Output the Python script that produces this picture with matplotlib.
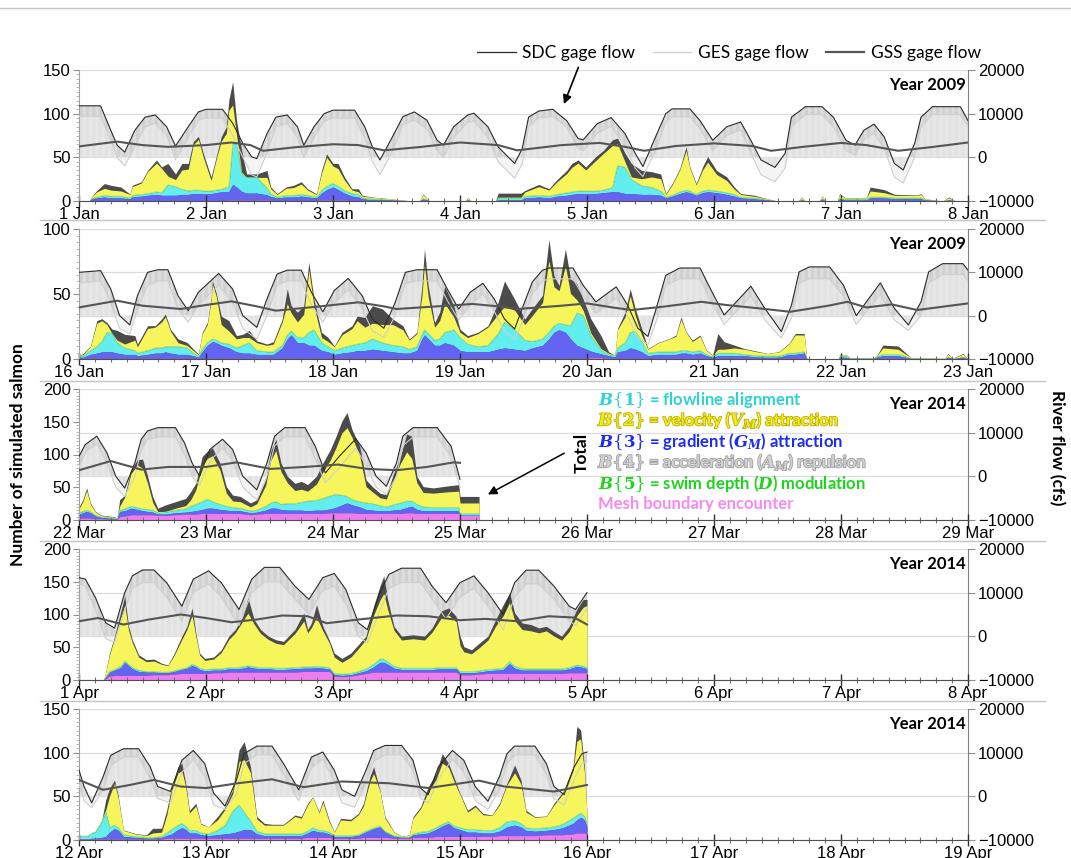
import numpy as np
import matplotlib
matplotlib.use("Agg")
import matplotlib.pyplot as plt
import matplotlib.patheffects as pe
from matplotlib.lines import Line2D
from matplotlib.ticker import MultipleLocator

plt.rcParams['font.family'] = ['Liberation Sans', 'DejaVu Sans']
plt.rcParams['mathtext.fontset'] = 'dejavuserif'
plt.rcParams['hatch.linewidth'] = 0.4

# ---------------- data ----------------
# panel settings
PANEL_START = [1, 16, 22, 1, 12]
PANEL_MONTH = ['Jan', 'Jan', 'Mar', 'Apr', 'Apr']
PANEL_YEAR = ['Year 2009', 'Year 2009', 'Year 2014', 'Year 2014', 'Year 2014']
PANEL_TOP = [150, 100, 200, 200, 150]

# flows: (day, SDC cfs, GES cfs)
P1_FLOW = [
    (0.00, 11800, 9400), (0.17, 11800, 9400), (0.25, 6200, 4000), (0.30, 2800, 0),
    (0.36, 1200, -2000), (0.44, 6200, 2500), (0.52, 9200, 7000), (0.60, 9700, 7800),
    (0.69, 7000, 5000), (0.76, 2600, -500), (0.86, 7000, 4500), (0.94, 10400, 8500),
    (1.00, 11000, 9000), (1.13, 11000, 9000), (1.21, 7800, 5000), (1.29, 3200, 0),
    (1.36, 100, -4000), (1.40, -300, -4500), (1.48, 5400, 1000), (1.55, 9200, 7000),
    (1.64, 9700, 7800), (1.72, 7000, 4500), (1.77, 2800, 0), (1.85, 7000, 4500),
    (1.93, 10000, 8200), (2.00, 10800, 9000), (2.17, 10800, 9000), (2.25, 7000, 4500),
    (2.31, 2400, -1000), (2.37, -600, -4000), (2.47, 4800, 1500), (2.55, 9300, 7500),
    (2.64, 10400, 8500), (2.74, 8500, 6500), (2.82, 3900, 1500), (2.87, 2800, 0),
    (2.95, 7000, 4500), (3.06, 9700, 8000), (3.11, 10100, 8300), (3.22, 7000, 4500),
    (3.30, 2400, -1000), (3.43, -1400, -4800), (3.49, 2000, -1500), (3.54, 9200, 7000),
    (3.62, 10600, 9000), (3.73, 11000, 9300), (3.84, 8400, 7000), (3.93, 4300, 2000),
    (3.97, 4000, 1500), (4.08, 7700, 5500), (4.19, 9100, 7200), (4.30, 5400, 2500),
    (4.38, 900, -2500), (4.44, -2100, -4400), (4.54, 4700, 1500), (4.62, 10000, 8000),
    (4.67, 11100, 9300), (4.81, 11100, 9300), (4.89, 8400, 6500), (4.99, 3900, 1500),
    (5.10, 7000, 5000), (5.21, 8100, 6300), (5.29, 3900, 1000), (5.37, -600, -4000),
    (5.48, -2300, -5600), (5.56, 900, -2500), (5.61, 9200, 7000), (5.72, 11600, 9800),
    (5.85, 11600, 9800), (5.94, 9200, 7000), (6.04, 3900, 1500), (6.11, 2800, 500),
    (6.18, 6200, 4000), (6.26, 7600, 5500), (6.34, 4700, 2000), (6.42, -1400, -4500),
    (6.49, -2900, -5900), (6.58, 3200, 0), (6.63, 9200, 7000), (6.72, 11600, 9800),
    (6.94, 11600, 9800), (7.00, 8400, 7000),
]
P2_FLOW = [
    (0.00, 10000, 7500), (0.17, 10400, 8000), (0.25, 6150, 3000), (0.32, 0, -3000),
    (0.40, -2150, -4200), (0.46, 4600, 1500), (0.54, 10000, 7000), (0.62, 10600, 8000),
    (0.70, 10600, 8000), (0.78, 4600, 1500), (0.86, 1150, -1500), (0.94, 5400, 2500),
    (1.10, 9750, 7000), (1.21, 6150, 3000), (1.29, 0, -3000), (1.40, -2700, -5400),
    (1.48, 3850, 0), (1.56, 9600, 7000), (1.64, 10500, 8000), (1.75, 10500, 8000),
    (1.83, 5400, 2500), (1.92, 900, -1500), (2.01, 5800, 3000), (2.12, 8600, 6000),
    (2.23, 4600, 1500), (2.31, -770, -3500), (2.40, -2900, -5000), (2.49, 3080, 0),
    (2.57, 10000, 7500), (2.66, 10600, 8000), (2.82, 10600, 8000), (2.90, 6150, 3500),
    (2.99, 1540, -1000), (3.08, 5400, 2500), (3.18, 7460, 5000), (3.27, 3850, 1000),
    (3.35, -770, -3500), (3.43, -3080, -5400), (3.49, 1700, -1500), (3.57, 7800, 5000),
    (3.65, 10500, 8000), (3.70, 11000, 8500), (3.89, 11000, 8500), (3.97, 7000, 4500),
    (4.07, 3200, 500), (4.23, 6650, 4000), (4.32, 2450, 0), (4.40, -2900, -5000),
    (4.48, -4800, -6700), (4.56, 3200, 0), (4.62, 9300, 7000), (4.73, 11000, 8500),
    (4.89, 11000, 8500), (4.97, 6270, 3500), (5.08, 150, -2000), (5.29, 6800, 4500),
    (5.40, 1700, -1000), (5.53, -3670, -5200), (5.61, 2450, -500), (5.67, 10100, 7500),
    (5.75, 11250, 8500), (5.91, 11250, 8500), (6.02, 7000, 4500), (6.12, 0, -2000),
    (6.31, 7570, 5000), (6.42, 1700, -1000), (6.53, -2150, -3400), (6.63, 3200, 0),
    (6.69, 10100, 7500), (6.80, 12000, 9500), (6.96, 12000, 9500), (7.00, 10500, 8000),
]
P3_FLOW = [
    (0.00, 4600, 2000), (0.05, 7300, 5500), (0.14, 9200, 7500), (0.22, 5400, 3000),
    (0.29, 0, -2500), (0.36, -2700, -4600), (0.44, 3100, 0), (0.49, 8500, 6000),
    (0.54, 10400, 8500), (0.62, 11150, 9000), (0.76, 11150, 9000), (0.83, 7700, 5000),
    (0.89, 3100, 0), (0.95, 0, -2000), (1.03, 6150, 3500), (1.13, 8500, 6500),
    (1.21, 6150, 3500), (1.29, 0, -2500), (1.40, -3100, -5400), (1.48, 3100, 0),
    (1.54, 9200, 7000), (1.62, 11150, 9000), (1.78, 11150, 9000), (1.86, 6900, 4000),
    (1.94, 770, -1500), (2.05, 4600, 2000), (2.18, 8600, 6500), (2.26, 5400, 2500),
    (2.34, 0, -2500), (2.42, -2300, -4200), (2.50, 3100, 0), (2.55, 9200, 7000),
    (2.63, 11150, 9000), (2.82, 11150, 9000), (2.93, 6900, 4500), (3.00, -700, -2500),
]
P4_FLOW = [
    (0.00, 13450, 12000), (0.05, 13100, 11500), (0.13, 8850, 6000), (0.21, 3100, -500),
    (0.28, 1900, -1500), (0.36, 10000, 6000), (0.42, 13850, 11000), (0.50, 15200, 12300),
    (0.59, 15200, 12300), (0.69, 12300, 9000), (0.81, 6900, 3500), (0.90, 13100, 10000),
    (1.02, 15000, 12000), (1.12, 12300, 9000), (1.26, 6150, 2500), (1.36, 13100, 10000),
    (1.46, 15800, 12500), (1.58, 15800, 12500), (1.70, 11500, 8500), (1.81, 8460, 5000),
    (1.92, 13450, 10500), (2.01, 14400, 11500), (2.10, 10770, 7500), (2.20, 3100, 0),
    (2.27, 1540, -1500), (2.37, 10000, 6000), (2.44, 14200, 11000), (2.54, 15600, 12300),
    (2.69, 15600, 12300), (2.78, 11500, 8500), (2.89, 7700, 4000), (3.00, 12300, 9000),
    (3.11, 13850, 11000), (3.22, 10000, 7000), (3.34, 5000, 1500), (3.43, 12300, 9000),
    (3.52, 15150, 12000), (3.62, 15150, 12000), (3.74, 11500, 8500), (3.86, 6900, 3500),
    (3.91, 6150, 2500), (3.99, 9600, 6000), (4.00, 10000, 6500),
]
P5_FLOW = [
    (0.00, 6000, 3000), (0.04, 2250, -1000), (0.10, -1500, -2600), (0.19, 4500, 1500),
    (0.25, 9400, 7000), (0.35, 10900, 9000), (0.47, 10900, 9000), (0.56, 6800, 4000),
    (0.62, 2250, -500), (0.72, 1130, -1500), (0.81, 8270, 5500), (0.90, 10500, 8500),
    (0.99, 7500, 4500), (1.06, 750, -2000), (1.15, -2250, -3000), (1.24, 3760, 500),
    (1.30, 9770, 7500), (1.40, 11500, 9500), (1.52, 11500, 9500), (1.61, 7500, 5000),
    (1.73, 1500, -1000), (1.83, 9000, 6500), (1.92, 10150, 8500), (2.01, 6000, 3500),
    (2.07, 1500, -1500), (2.17, 0, -2500), (2.26, 6000, 3000), (2.32, 10500, 8000),
    (2.41, 11650, 9500), (2.54, 11650, 9500), (2.63, 8270, 6000), (2.69, 1880, -500),
    (2.75, 380, -1500), (2.83, 6770, 4000), (2.94, 10500, 8500), (3.03, 8270, 5500),
    (3.12, 2250, -1000), (3.22, -1130, -3000), (3.31, 4500, 1500), (3.37, 9770, 7500),
    (3.43, 11500, 9500), (3.59, 11500, 9500), (3.68, 7500, 5000), (3.74, 2250, -500),
    (3.82, 380, -2000), (3.90, 6770, 4000), (3.96, 9770, 7500), (4.00, 10150, 8000),
]

# GSS gage flow: (day, cfs)
P1_GSS = [
    (0.0, 2500), (0.3, 3600), (0.5, 2800), (0.7, 2400), (1.0, 2800), (1.2, 3400),
    (1.35, 2800), (1.45, 1500), (1.7, 2300), (2.0, 3000), (2.2, 2800), (2.4, 1600),
    (2.7, 2400), (3.0, 3400), (3.3, 2800), (3.45, 1600), (3.8, 2800), (4.1, 3300),
    (4.3, 2400), (4.45, 1500), (4.7, 2600), (5.0, 3200), (5.3, 2600), (5.45, 1500),
    (5.7, 2400), (6.0, 3300), (6.2, 2800), (6.45, 1500), (6.7, 2300), (7.0, 3400),
]
P2_GSS = [
    (0.0, 1900), (0.3, 3460), (0.5, 2300), (0.8, 1540), (1.0, 2460), (1.2, 3300),
    (1.4, 2150), (1.55, 1150), (1.9, 2150), (2.2, 3080), (2.4, 2150), (2.5, 1540),
    (2.9, 2300), (3.1, 2700), (3.3, 2150), (3.45, 1530), (3.8, 2300), (4.0, 2830),
    (4.2, 1900), (4.35, 1300), (4.6, 2070), (4.9, 3200), (5.1, 2450), (5.35, 1700),
    (5.6, 900), (5.9, 2300), (6.05, 3200), (6.2, 1900), (6.4, 2600), (6.6, 1300),
    (6.9, 2450), (7.0, 2830),
]
P3_GSS = [
    (0.0, 1400), (0.25, 3500), (0.49, 1540), (0.7, 2150), (1.0, 2150), (1.24, 3200),
    (1.51, 1700), (1.78, 2150), (2.04, 2700), (2.27, 1700), (2.5, 1400), (2.74, 2150),
    (2.95, 3200), (3.0, 3100),
]
P4_GSS = [
    (0.0, 3460), (0.15, 4200), (0.35, 2700), (0.55, 3850), (0.8, 5000), (1.0, 4200),
    (1.2, 3230), (1.4, 3850), (1.6, 4770), (1.8, 4600), (1.95, 3000), (2.2, 3850),
    (2.5, 4770), (2.75, 4600), (3.0, 3700), (3.2, 4000), (3.45, 3460), (3.7, 4600),
    (3.9, 4300), (4.0, 2700),
]
P5_GSS = [
    (0.0, 3760), (0.19, 1500), (0.4, 2600), (0.59, 3760), (0.8, 2250), (1.0, 1900),
    (1.25, 3000), (1.52, 3900), (1.77, 2100), (2.07, 3400), (2.44, 3000), (2.75, 1900),
    (3.15, 3600), (3.35, 2250), (3.74, 1100), (4.0, 2600),
]

# simulated salmon: (day, total, mesh, B3, B1, B2)
P1_FISH = [
    (0.00, 0, 0, 0, 0, 0), (0.08, 0, 0, 0, 0, 0), (0.10, 5, 0.3, 2, 1, 1.5),
    (0.14, 12, 0.5, 3, 1, 6), (0.20, 20, 0.5, 4, 2, 8), (0.25, 18, 0.5, 3, 2, 7),
    (0.33, 16, 0.5, 3, 2, 6), (0.40, 8, 0.5, 2, 1, 4), (0.42, 18, 0.5, 4, 2, 10),
    (0.49, 22, 0.5, 5, 2, 13), (0.54, 35, 0.5, 6, 2, 25), (0.61, 47, 0.5, 7, 3, 33),
    (0.65, 39, 0.5, 6, 3, 28), (0.70, 43, 0.5, 6, 12, 10), (0.76, 31, 0.5, 6, 10, 8),
    (0.81, 43, 0.5, 7, 6, 22), (0.86, 43, 0.5, 7, 4, 25), (0.90, 68, 0.5, 8, 4, 52),
    (0.94, 74, 0.5, 8, 4, 58), (0.98, 54, 0.5, 8, 3, 38), (1.04, 27.6, 0.5, 8, 3, 12),
    (1.08, 50.6, 0.5, 9, 3, 35), (1.12, 73.6, 0.5, 10, 3, 55), (1.16, 85, 0.5, 10, 5, 62),
    (1.18, 115.7, 1, 10, 5, 88), (1.21, 136.8, 1, 18, 46, 45), (1.24, 92.7, 1, 15, 50, 10),
    (1.28, 58, 1, 10, 20, 2), (1.32, 31, 1, 8, 18, 0), (1.40, 31, 1, 8, 18, 0),
    (1.48, 35, 1, 6, 8, 12), (1.51, 16, 1, 4, 3, 6), (1.56, 8.4, 0.5, 3, 1, 3),
    (1.63, 16, 0.5, 4, 2, 8), (1.69, 18, 0.5, 4, 2, 9), (1.75, 22, 0.5, 5, 2, 12),
    (1.80, 14, 0.5, 4, 2, 6), (1.87, 8.4, 0.5, 3, 1, 3), (1.91, 35, 1, 8, 3, 20),
    (1.95, 54, 1, 12, 4, 33), (2.00, 43, 1, 15, 4, 20), (2.04, 43, 1, 12, 4, 20),
    (2.09, 27.6, 1, 8, 3, 12), (2.15, 14, 0.5, 5, 3, 4), (2.20, 14, 0.5, 4, 3, 3),
    (2.23, 6.5, 0.5, 2, 1, 2), (2.31, 4.6, 0.3, 1, 1, 2), (2.44, 2.7, 0.2, 1, 0.5, 1),
    (2.57, 0.8, 0.1, 0.3, 0.2, 0.2), (2.62, 0, 0, 0, 0, 0), (2.68, 0, 0, 0, 0, 0),
    (2.71, 8, 0.3, 2, 1, 4), (2.76, 0, 0, 0, 0, 0), (3.04, 0, 0, 0, 0, 0),
    (3.06, 3.8, 0.2, 1, 0.5, 1.5), (3.09, 0, 0, 0, 0, 0), (3.28, 0, 0, 0, 0, 0),
    (3.30, 9, 0.3, 1, 2, 1), (3.48, 9, 0.3, 1, 2, 1), (3.51, 12, 0.3, 3, 2, 5),
    (3.62, 19, 0.5, 4, 2, 10), (3.70, 14, 0.5, 3, 2, 7), (3.76, 24, 0.5, 5, 2, 14),
    (3.84, 35, 0.5, 6, 3, 22), (3.88, 43, 0.5, 7, 3, 28), (3.93, 47, 0.5, 8, 3, 32),
    (3.99, 39, 0.5, 8, 3, 24), (4.07, 51, 0.5, 8, 3, 35), (4.13, 58, 0.5, 9, 3, 42),
    (4.20, 70, 0.5, 10, 5, 48), (4.24, 72, 0.5, 10, 30, 25), (4.30, 54.6, 0.5, 8, 30, 6),
    (4.35, 43, 0.5, 8, 16, 3), (4.43, 35, 0.5, 7, 10, 8), (4.51, 33.5, 0.5, 7, 8, 12),
    (4.58, 31, 0.5, 6, 5, 14), (4.62, 8.5, 0.5, 3, 1, 3), (4.67, 20, 0.5, 5, 1, 12),
    (4.73, 37, 0.5, 8, 2, 25), (4.78, 62, 0.5, 10, 2, 45), (4.81, 39, 0.5, 9, 2, 26),
    (4.86, 20, 0.5, 6, 1, 11), (4.91, 39, 0.5, 9, 2, 24), (4.95, 51, 0.5, 10, 2, 32),
    (5.02, 35, 0.5, 9, 2, 19), (5.10, 27.7, 0.5, 7, 2, 14), (5.16, 16, 0.5, 5, 2, 6),
    (5.21, 8.5, 0.5, 3, 1, 3), (5.32, 6.5, 0.3, 2, 1, 2), (5.42, 2.7, 0.2, 1, 0.5, 1),
    (5.50, 0, 0, 0, 0, 0), (5.66, 0, 0, 0, 0, 0), (5.69, 4.6, 0.2, 1, 1, 2),
    (5.72, 0, 0, 0, 0, 0), (5.83, 0, 0, 0, 0, 0), (5.85, 6.5, 0.3, 2, 1, 3),
    (5.88, 0, 0, 0, 0, 0), (5.97, 0, 0, 0, 0, 0), (5.99, 8.5, 0.3, 2, 1, 4),
    (6.03, 4, 0.2, 1, 1, 1.5), (6.20, 4, 0.2, 1, 1, 1.5), (6.23, 16, 0.5, 3, 1, 7),
    (6.34, 13, 0.5, 3, 1, 5), (6.42, 7.7, 0.5, 2, 1, 3), (6.60, 7, 0.5, 2, 1, 3),
    (6.63, 8.5, 0.5, 2, 1, 4), (6.66, 2.7, 0.2, 1, 0.5, 1), (6.80, 0, 0, 0, 0, 0),
    (6.85, 4.6, 0.2, 1, 0.5, 2), (6.90, 0, 0, 0, 0, 0), (7.00, 0, 0, 0, 0, 0),
]
P2_FISH = [
    (0.00, 3, 0.3, 1, 1, 0.5), (0.03, 4, 0.3, 1, 1, 1), (0.09, 10, 0.5, 3, 3, 3),
    (0.14, 29.5, 0.5, 4, 5, 18), (0.18, 31, 0.5, 5, 8, 16), (0.22, 28, 0.5, 5, 15, 6),
    (0.26, 23, 0.5, 5, 14, 0), (0.30, 22, 0.5, 4, 8, 2), (0.36, 19, 0.5, 3, 5, 3),
    (0.44, 18, 0.5, 3, 3, 8), (0.46, 11.5, 0.5, 2, 2, 5), (0.54, 25.6, 0.5, 3, 3, 17),
    (0.60, 25.6, 0.5, 4, 4, 16), (0.65, 30.8, 0.5, 4, 4, 20), (0.68, 34.6, 0.5, 5, 4, 23),
    (0.72, 23, 0.5, 4, 5, 12), (0.78, 15.4, 0.5, 3, 6, 3), (0.85, 12.8, 0.5, 3, 5, 2),
    (0.90, 7.7, 0.5, 2, 2, 2), (0.94, 3.8, 0.3, 1, 1, 1), (0.97, 20.5, 0.5, 5, 2, 12),
    (1.01, 28, 0.5, 10, 2, 14), (1.04, 46, 0.5, 12, 2, 30), (1.05, 60, 0.5, 13, 2, 42),
    (1.08, 51, 0.5, 12, 2, 34), (1.12, 33, 0.5, 10, 2, 14), (1.18, 29.5, 0.5, 8, 3, 10),
    (1.24, 18, 0.5, 5, 3, 7), (1.29, 19, 0.5, 4, 6, 6), (1.34, 22, 0.5, 4, 8, 4),
    (1.40, 14, 0.5, 3, 3, 6), (1.48, 11.5, 0.5, 3, 2, 5), (1.53, 13.3, 0.5, 3, 2, 6),
    (1.60, 30.8, 0.5, 8, 2, 18), (1.64, 54, 0.5, 15, 3, 24), (1.67, 41, 0.5, 18, 3, 14),
    (1.72, 36, 0.5, 12, 4, 12), (1.77, 41, 0.5, 12, 4, 18), (1.81, 74.4, 0.5, 10, 10, 48),
    (1.85, 46, 0.5, 10, 12, 18), (1.91, 20.5, 0.5, 6, 6, 4), (1.96, 16.7, 0.5, 5, 4, 4),
    (2.01, 10, 0.5, 3, 3, 3), (2.07, 20.5, 0.5, 4, 4, 10), (2.15, 25.6, 0.5, 5, 5, 13),
    (2.19, 33, 0.5, 6, 5, 18), (2.25, 32, 0.5, 6, 6, 12), (2.31, 41, 0.5, 7, 8, 12),
    (2.39, 38.5, 0.5, 6, 6, 14), (2.47, 30.8, 0.5, 5, 5, 16), (2.55, 25.6, 0.5, 4, 5, 13),
    (2.60, 15.4, 0.5, 4, 3, 7), (2.66, 20.5, 0.5, 6, 3, 10), (2.70, 56, 0.5, 15, 3, 30),
    (2.72, 84.6, 0.5, 18, 4, 50), (2.75, 56, 0.5, 15, 4, 28), (2.80, 28, 0.5, 10, 4, 10),
    (2.84, 36, 0.5, 10, 5, 14), (2.88, 56, 0.5, 12, 8, 22), (2.95, 41, 0.5, 10, 12, 10),
    (3.00, 23, 0.5, 6, 10, 4), (3.06, 18, 0.5, 5, 6, 5), (3.14, 20.5, 0.5, 5, 4, 10),
    (3.22, 25.6, 0.5, 5, 5, 14), (3.30, 43.6, 0.5, 7, 12, 15), (3.35, 60, 0.5, 8, 20, 12),
    (3.43, 46, 0.5, 7, 15, 15), (3.51, 30.8, 0.5, 6, 8, 12), (3.57, 38.8, 0.5, 8, 5, 20),
    (3.65, 49, 0.5, 10, 5, 28), (3.70, 92, 0.5, 15, 5, 55), (3.74, 64, 0.5, 20, 5, 30),
    (3.78, 56.6, 0.5, 22, 5, 25), (3.83, 84.7, 0.5, 20, 6, 45), (3.87, 61.7, 0.5, 15, 10, 25),
    (3.92, 58, 0.5, 10, 25, 10), (3.97, 46, 0.5, 8, 25, 4), (4.03, 31, 1, 5, 12, 2),
    (4.11, 18, 1, 3, 3, 1), (4.17, 5.6, 0.5, 2, 1, 1), (4.22, 3, 0.5, 1, 1, 0.5),
    (4.24, 23.5, 0.5, 5, 3, 14), (4.30, 36, 0.5, 6, 6, 20), (4.34, 54, 0.5, 8, 12, 28),
    (4.38, 38.8, 0.5, 7, 14, 12), (4.43, 23.5, 0.5, 5, 8, 5), (4.48, 8, 0.5, 2, 2, 3),
    (4.56, 12.8, 0.5, 3, 2, 7), (4.65, 15.8, 0.5, 3, 2, 10), (4.70, 18.4, 0.5, 3, 2, 12),
    (4.74, 32.4, 0.5, 4, 2, 24), (4.78, 21, 0.5, 4, 2, 14), (4.83, 14.5, 0.5, 3, 2, 8),
    (4.89, 18.4, 0.5, 4, 2, 11), (4.94, 7, 0.5, 2, 1, 3), (4.99, 3, 0.3, 1, 0.5, 1),
    (5.03, 19.6, 0.5, 2, 2, 3), (5.08, 13.3, 0.5, 2, 2, 3), (5.16, 10.7, 0.5, 2, 2, 4),
    (5.24, 8, 0.5, 2, 1, 4), (5.34, 6, 0.5, 1, 1, 3), (5.42, 4.3, 0.3, 1, 1, 2),
    (5.51, 5.6, 0.3, 1, 1, 3), (5.59, 12, 0.5, 3, 1, 7), (5.64, 19.6, 0.5, 3, 1, 14),
    (5.71, 19.6, 0.5, 4, 1, 13), (5.73, 0.5, 0.1, 0.2, 0.1, 0.1), (5.75, 0, 0, 0, 0, 0),
    (5.98, 0, 0, 0, 0, 0), (5.99, 3.5, 0.3, 1, 1, 1), (6.04, 3.5, 0.3, 1, 1, 1),
    (6.07, 1, 0.1, 0.3, 0.3, 0.3), (6.26, 1, 0.1, 0.3, 0.3, 0.3), (6.28, 2.5, 0.3, 1, 0.5, 0.5),
    (6.33, 10.7, 0.5, 2, 1, 5), (6.45, 10, 0.5, 2, 1, 4), (6.50, 5.6, 0.3, 1, 1, 2),
    (6.55, 1, 0.1, 0.3, 0.3, 0.3), (6.82, 0.5, 0.1, 0.1, 0.1, 0.1), (6.84, 4.3, 0.3, 1, 0.5, 2),
    (6.88, 0.5, 0.1, 0.1, 0.1, 0.1), (6.96, 4.3, 0.3, 1, 0.5, 2), (7.00, 0, 0, 0, 0, 0),
]
P3_FISH = [
    (0.00, 20, 3, 6, 2, 6), (0.03, 31, 3, 8, 2, 15), (0.06, 49, 3, 10, 2, 30),
    (0.09, 26, 3, 8, 2, 11), (0.13, 13, 2, 4, 1, 5), (0.17, 7.7, 2, 2, 1, 2),
    (0.28, 5, 1, 1, 1, 1), (0.30, 2.5, 1, 0.5, 0.5, 0.5), (0.32, 31, 5, 8, 2, 6),
    (0.36, 38, 6, 8, 3, 18), (0.41, 77, 8, 10, 3, 50), (0.46, 92, 8, 8, 3, 65),
    (0.50, 93, 8, 6, 3, 62), (0.54, 67, 8, 5, 3, 40), (0.58, 36, 8, 4, 3, 12),
    (0.62, 18, 7, 2, 2, 2), (0.68, 23, 7, 2, 3, 1), (0.76, 28, 8, 3, 4, 3),
    (0.84, 33, 9, 3, 5, 5), (0.88, 43.6, 9, 4, 8, 10), (0.92, 56, 9, 5, 10, 22),
    (0.97, 97, 10, 6, 12, 55), (1.01, 105, 10, 8, 14, 62), (1.05, 110, 10, 8, 10, 70),
    (1.11, 87, 10, 6, 8, 52), (1.16, 51, 10, 5, 6, 20), (1.21, 38, 10, 4, 5, 10),
    (1.27, 36, 10, 4, 4, 10), (1.35, 26, 8, 3, 3, 6), (1.40, 31, 9, 3, 3, 10),
    (1.47, 61.5, 10, 5, 6, 32), (1.51, 105, 10, 8, 8, 65), (1.55, 123, 10, 8, 10, 78),
    (1.59, 87, 10, 6, 8, 50), (1.64, 67, 10, 5, 10, 32), (1.70, 56, 10, 5, 10, 20),
    (1.75, 59, 10, 5, 12, 20), (1.80, 54, 10, 4, 15, 15), (1.87, 67, 10, 5, 15, 25),
    (1.92, 87, 10, 5, 18, 40), (1.98, 108, 11, 6, 20, 55), (2.02, 126, 11, 8, 20, 70),
    (2.07, 151, 11, 12, 15, 95), (2.11, 164, 11, 15, 10, 105), (2.15, 138, 11, 12, 8, 95),
    (2.21, 113, 10, 10, 8, 70), (2.26, 61.5, 10, 6, 10, 25), (2.31, 51, 10, 5, 10, 18),
    (2.37, 41, 10, 4, 8, 12), (2.42, 38.5, 10, 4, 6, 12), (2.47, 67, 10, 5, 8, 35),
    (2.53, 97, 10, 6, 10, 60), (2.58, 131, 11, 8, 10, 75), (2.62, 128, 11, 10, 8, 65),
    (2.66, 67, 10, 6, 8, 33), (2.71, 51, 10, 4, 6, 22), (2.79, 49, 10, 4, 5, 22),
    (2.90, 52, 10, 4, 5, 24), (2.99, 54, 10, 4, 5, 25), (3.00, 36, 7, 0.5, 2.5, 16),
    (3.15, 36, 7, 0.5, 2.5, 16),
]
P4_FISH = [
    (0.00, 0, 0, 0, 0, 0), (0.19, 0, 0, 0, 0, 0), (0.20, 3, 1, 1, 0, 1),
    (0.24, 41, 6, 6, 1, 25), (0.28, 67, 7, 8, 1, 48), (0.33, 105, 7, 12, 2, 75),
    (0.36, 128, 7, 20, 2, 85), (0.39, 82, 7, 15, 2, 52), (0.42, 61.5, 7, 10, 2, 38),
    (0.47, 38.5, 7, 6, 2, 20), (0.53, 31, 7, 5, 1, 15), (0.59, 32, 8, 4, 1, 16),
    (0.65, 25.6, 8, 3, 1, 12), (0.70, 23, 8, 3, 1, 10), (0.75, 41, 9, 4, 1, 24),
    (0.81, 67, 10, 6, 1, 45), (0.85, 82, 10, 8, 1, 58), (0.89, 110, 10, 12, 2, 75),
    (0.92, 72, 10, 10, 2, 45), (0.95, 41, 10, 6, 2, 20), (0.99, 33, 10, 4, 2, 14),
    (1.06, 35, 11, 4, 2, 15), (1.12, 46, 11, 4, 2, 25), (1.18, 67, 12, 5, 2, 43),
    (1.23, 77, 12, 5, 2, 53), (1.29, 97, 12, 6, 2, 70), (1.33, 125.6, 12, 8, 2, 80),
    (1.38, 92, 12, 6, 2, 65), (1.43, 77, 12, 5, 2, 52), (1.49, 67, 12, 5, 2, 43),
    (1.55, 61.5, 12, 4, 2, 38), (1.61, 59, 12, 4, 2, 36), (1.70, 77, 12, 5, 2, 52),
    (1.77, 102.6, 13, 5, 2, 70), (1.80, 77, 13, 5, 2, 52), (1.83, 87, 13, 5, 2, 60),
    (1.87, 115, 13, 6, 2, 75), (1.92, 82, 13, 5, 2, 55), (1.97, 61.5, 13, 4, 2, 38),
    (2.01, 41, 6, 2, 2, 25), (2.07, 33, 5, 2, 2, 18), (2.14, 41, 6, 2, 2, 25),
    (2.20, 54, 8, 3, 2, 35), (2.26, 67, 10, 4, 3, 45), (2.32, 113, 12, 8, 4, 75),
    (2.37, 143.6, 12, 15, 5, 90), (2.40, 159, 12, 15, 5, 100), (2.43, 123, 12, 12, 4, 80),
    (2.48, 82, 12, 6, 3, 55), (2.54, 67, 12, 4, 2, 43), (2.63, 69, 12, 4, 2, 45),
    (2.72, 67, 12, 4, 2, 43), (2.78, 79.5, 12, 4, 2, 55), (2.85, 105, 12, 5, 2, 75),
    (2.91, 110, 12, 5, 2, 80), (2.97, 97, 12, 5, 2, 70), (3.00, 67, 8, 3, 2, 40),
    (3.03, 51, 8, 3, 2, 30), (3.09, 46, 8, 3, 2, 27), (3.15, 56, 9, 3, 2, 35),
    (3.22, 67, 10, 4, 2, 45), (3.28, 92, 10, 5, 2, 65), (3.34, 115, 10, 6, 2, 80),
    (3.39, 133, 10, 15, 3, 90), (3.43, 102.6, 10, 8, 3, 70), (3.49, 87, 10, 5, 2, 60),
    (3.56, 84.6, 10, 5, 2, 58), (3.62, 79.5, 10, 5, 2, 55), (3.68, 82, 10, 5, 2, 58),
    (3.74, 74, 10, 5, 2, 50), (3.80, 67, 10, 5, 2, 44), (3.86, 82, 11, 6, 2, 55),
    (3.92, 108, 11, 10, 2, 75), (3.97, 123, 11, 8, 2, 90), (4.00, 123, 11, 6, 2, 95),
]
P5_FISH = [
    (0.00, 4.6, 1, 0.5, 3, 0), (0.07, 4.6, 1, 0.5, 3, 0), (0.10, 8, 1, 1, 6, 0),
    (0.13, 9.5, 1, 1, 7, 0), (0.18, 23, 1, 2, 18, 2), (0.21, 45.8, 1, 3, 28, 2),
    (0.24, 59, 1, 8, 6, 35), (0.28, 68.7, 1, 12, 4, 48), (0.31, 49.6, 1, 10, 3, 33),
    (0.35, 11.5, 1, 3, 2, 5), (0.44, 7.6, 1, 2, 1, 3), (0.53, 5.7, 1, 1, 1, 2),
    (0.58, 13.4, 1, 1, 1, 5), (0.65, 13.4, 1, 2, 1, 5), (0.69, 34, 2, 3, 3, 20),
    (0.73, 61, 2, 5, 5, 45), (0.78, 84, 2, 10, 5, 60), (0.81, 87.8, 2, 12, 5, 60),
    (0.84, 65, 2, 10, 4, 45), (0.87, 34, 2, 6, 3, 20), (0.92, 42, 2, 6, 3, 28),
    (0.96, 19, 2, 4, 2, 10), (1.02, 15, 2, 3, 2, 8), (1.09, 26.7, 2, 4, 5, 12),
    (1.15, 38, 2, 5, 10, 18), (1.21, 57, 2, 6, 25, 20), (1.26, 103, 2, 8, 30, 50),
    (1.30, 112.6, 2, 10, 20, 60), (1.35, 84, 2, 10, 10, 55), (1.40, 26.7, 2, 5, 3, 14),
    (1.46, 19, 2, 3, 2, 10), (1.52, 18, 2, 3, 2, 10), (1.61, 18, 2, 3, 2, 10),
    (1.70, 28.6, 2, 3, 2, 20), (1.75, 26.7, 2, 3, 2, 18), (1.80, 42, 3, 5, 2, 30),
    (1.84, 49.6, 3, 8, 3, 35), (1.89, 32.4, 3, 6, 2, 20), (1.92, 45.8, 3, 6, 2, 32),
    (1.97, 23, 3, 4, 2, 12), (2.01, 9.5, 2, 2, 1, 4), (2.06, 24.8, 2, 2, 1, 18),
    (2.14, 23.7, 2, 2, 1, 17), (2.20, 30.5, 2, 3, 1, 23), (2.24, 42, 3, 5, 1, 30),
    (2.29, 72.5, 3, 8, 1, 55), (2.32, 84, 3, 10, 1, 62), (2.37, 57, 3, 12, 1, 40),
    (2.41, 26.7, 3, 6, 1, 15), (2.48, 9.5, 2, 2, 1, 4), (2.54, 4.6, 2, 1, 0.5, 1),
    (2.60, 5.7, 2, 1, 0.5, 2), (2.63, 26.7, 3, 3, 1, 18), (2.69, 38, 3, 4, 2, 27),
    (2.75, 61, 3, 5, 2, 45), (2.81, 76, 4, 8, 2, 55), (2.86, 99, 4, 12, 2, 70),
    (2.91, 87.8, 4, 15, 2, 62), (2.95, 72.5, 4, 10, 2, 52), (3.00, 53.4, 4, 8, 2, 38),
    (3.06, 34, 4, 5, 3, 20), (3.12, 40, 4, 5, 3, 26), (3.18, 30.5, 4, 4, 3, 18),
    (3.25, 28.6, 4, 4, 3, 17), (3.31, 42, 5, 5, 4, 26), (3.37, 65, 5, 10, 6, 42),
    (3.43, 86, 5, 12, 5, 55), (3.48, 68.7, 5, 10, 4, 45), (3.52, 34, 5, 6, 3, 18),
    (3.59, 26.7, 5, 5, 3, 13), (3.68, 27.5, 6, 5, 3, 13), (3.74, 42, 6, 6, 3, 25),
    (3.81, 55, 6, 8, 4, 35), (3.89, 84, 7, 12, 6, 55), (3.92, 130, 8, 15, 5, 85),
    (3.95, 126, 8, 18, 5, 85), (3.98, 84, 8, 15, 4, 50), (4.00, 30.5, 7, 8, 3, 12),
]

FLOWS = [P1_FLOW, P2_FLOW, P3_FLOW, P4_FLOW, P5_FLOW]
GSS = [P1_GSS, P2_GSS, P3_GSS, P4_GSS, P5_GSS]
FISH = [P1_FISH, P2_FISH, P3_FISH, P4_FISH, P5_FISH]

LEGEND_ROWS = [
    (r'$\mathbfit{B}\{\mathbf{1}\}$ = flowline alignment', '#2fd3d3', None),
    (r'$\mathbfit{B}\{\mathbf{2}\}$ = velocity ($\mathbfit{V}_{\mathbfit{M}}$) attraction', '#f2ea1a', '#b8a800'),
    (r'$\mathbfit{B}\{\mathbf{3}\}$ = gradient ($\mathbfit{G}_{\mathbfit{M}}$) attraction', '#1c2cf0', None),
    (r'$\mathbfit{B}\{\mathbf{4}\}$ = acceleration ($\mathbfit{A}_{\mathbfit{M}}$) repulsion', '#d2d2d2', '#9a9a9a'),
    (r'$\mathbfit{B}\{\mathbf{5}\}$ = swim depth ($\mathbfit{D}$) modulation', '#1fd41f', None),
    ('Mesh boundary encounter', '#f58af5', None),
]

# ---------------- styling ----------------
C_TOTAL = '#4b4b4b'
C_B2 = '#f6f65c'
C_B1 = '#62eeee'
C_B3 = '#6464f2'
C_MESH = '#ee7cee'
C_SDC = '#2a2a2a'
C_GES = '#cfcfcf'
C_GSS = '#555555'

W_PX, H_PX = 1071, 858
LEFT_PX, RIGHT_PX = 79, 968
TOPS_PX = [70, 229, 389, 549, 709]
BOTS_PX = [201, 359, 520, 680, 840]

fig = plt.figure(figsize=(W_PX / 100, H_PX / 100), dpi=100)


def draw_panel(i):
    x0 = LEFT_PX / W_PX
    w = (RIGHT_PX - LEFT_PX) / W_PX
    b = 1 - BOTS_PX[i] / H_PX
    h = (BOTS_PX[i] - TOPS_PX[i]) / H_PX
    ax = fig.add_axes([x0, b, w, h])
    ax2 = ax.twinx()
    ax3 = ax.twinx()
    ax2.set_zorder(1)
    ax.set_zorder(2)
    ax3.set_zorder(3)
    ax.patch.set_visible(False)

    # flows (right axis)
    ft, sdc, ges = np.array(FLOWS[i], dtype=float).T
    gt, gss = np.array(GSS[i], dtype=float).T
    ax2.fill_between(ft, 0, sdc, facecolor='#f6f6f6', edgecolor='#b4b4b4',
                     hatch='|' * 14, linewidth=0)
    ax2.fill_between(ft, 0, ges, facecolor='#eeeeee', alpha=0.6, linewidth=0)
    for a in (ax2, ax3):
        a.set_ylim(-10000, 20000)
    ax2.yaxis.set_major_locator(MultipleLocator(10000))
    ax2.grid(axis='y', color='#dcdcdc', lw=0.9)
    ax2.set_axisbelow(True)
    ax3.plot(ft, ges, color=C_GES, lw=0.8)
    ax3.plot(ft, sdc, color=C_SDC, lw=0.8)
    ax3.plot(gt, gss, color=C_GSS, lw=1.5)
    ax3.axis('off')

    # simulated salmon (left axis)
    t, tot, mesh, b3, b1, b2 = np.array(FISH[i], dtype=float).T
    c1 = mesh
    c2 = c1 + b3
    c3 = c2 + b1
    c4 = c3 + b2
    ax.fill_between(t, 0, tot, color=C_TOTAL, lw=0)
    ax.fill_between(t, c3, c4, color=C_B2, lw=0)
    ax.fill_between(t, c2, c3, color=C_B1, lw=0)
    ax.plot(t, np.where(tot > 2, c3, np.nan), color='#7fe07f', lw=0.5)
    ax.fill_between(t, c1, c2, color=C_B3, lw=0)
    ax.fill_between(t, 0, c1, color=C_MESH, lw=0)

    ax.set_xlim(0, 7)
    ax.set_ylim(0, PANEL_TOP[i])
    ax.yaxis.set_major_locator(MultipleLocator(50))
    ax.yaxis.set_minor_locator(MultipleLocator(5))
    ax.set_xticks(range(8))
    ax.set_xticklabels([f'{PANEL_START[i] + k} {PANEL_MONTH[i]}' for k in range(8)])
    ax.xaxis.set_minor_locator(MultipleLocator(0.125))
    ax.tick_params(axis='x', which='major', direction='inout', length=9, width=1,
                   color='#303030', labelsize=12, pad=0)
    ax.tick_params(axis='x', which='minor', direction='inout', length=4, width=0.8,
                   color='#707070')
    ax.tick_params(axis='y', which='major', direction='out', length=4, color='#909090',
                   labelsize=12, pad=2)
    ax.tick_params(axis='y', which='minor', direction='out', length=2, color='#b0b0b0')
    ax2.tick_params(axis='y', direction='out', length=5, color='#909090', labelsize=12, pad=2)

    for s in ('top', 'right'):
        ax.spines[s].set_visible(False)
    ax.spines['left'].set_color('#a0a0a0')
    ax.spines['bottom'].set_color('#505050')
    for s in ('top', 'left', 'bottom'):
        ax2.spines[s].set_visible(False)
    ax2.spines['right'].set_color('#808080')

    ax.text(0.998, 0.885, PANEL_YEAR[i], transform=ax.transAxes, ha='right', va='center',
            fontsize=12, fontweight='bold', family=['Lato', 'DejaVu Sans'])
    return ax, ax2, ax3


axes = [draw_panel(i) for i in range(5)]

# arrow pointing at the SDC curve in the first panel
axes[0][2].annotate('', xy=(3.81, 11600), xytext=(3.94, 21200),
                    arrowprops=dict(arrowstyle='-|>', color='black', lw=1.2, mutation_scale=13),
                    annotation_clip=False)

# behaviour legend and "Total" arrow in third panel
ax_b = axes[2][0]
ax_b.annotate('', xy=(3.2, 37), xytext=(3.84, 104),
              arrowprops=dict(arrowstyle='-|>', color='black', lw=1.1, mutation_scale=13))
ax_b.text(3.96, 102, 'Total', rotation=90, ha='center', va='center', fontsize=12.5,
          fontweight='bold', family=['Lato', 'DejaVu Sans'])
row_y = [0.916, 0.763, 0.603, 0.443, 0.282, 0.122]
for (txt, col, stroke), yy in zip(LEGEND_ROWS, row_y):
    tx = ax_b.text(0.584, yy, txt, transform=ax_b.transAxes, ha='left', va='center',
                   color=col, fontsize=12, fontweight='bold', family=['Lato', 'DejaVu Sans'])
    if stroke:
        tx.set_path_effects([pe.withStroke(linewidth=1.1, foreground=stroke)])

# top legend for the gage flows
handles = [Line2D([], [], color=C_SDC, lw=0.9), Line2D([], [], color=C_GES, lw=0.9),
           Line2D([], [], color=C_GSS, lw=1.6)]
fig.legend(handles, ['SDC gage flow', 'GES gage flow', 'GSS gage flow'], ncol=3,
           loc='center', bbox_to_anchor=(0.681, 1 - 53 / H_PX), frameon=False,
           prop={'family': ['Lato', 'DejaVu Sans'], 'size': 12.5},
           handlelength=2.2, handletextpad=0.4, columnspacing=1.0)

fig.text(18 / W_PX, 1 - 455 / H_PX, 'Number of simulated salmon', rotation=90,
         ha='center', va='center', fontsize=12.5, fontweight='bold',
         family=['Lato', 'DejaVu Sans'])
fig.text(1057 / W_PX, 1 - 448 / H_PX, 'River flow (cfs)', rotation=270,
         ha='center', va='center', fontsize=12.5, fontweight='bold',
         family=['Lato', 'DejaVu Sans'])

# frame separators
fig.add_artist(Line2D([0, 1], [1 - 8 / H_PX] * 2, color='#c4c4c4', lw=1))
for ypx in (220, 381, 541, 701):
    fig.add_artist(Line2D([40 / W_PX, 1045 / W_PX], [1 - ypx / H_PX] * 2,
                          color='#c4c4c4', lw=1))

fig.savefig('out.png', dpi=100, facecolor='white')
